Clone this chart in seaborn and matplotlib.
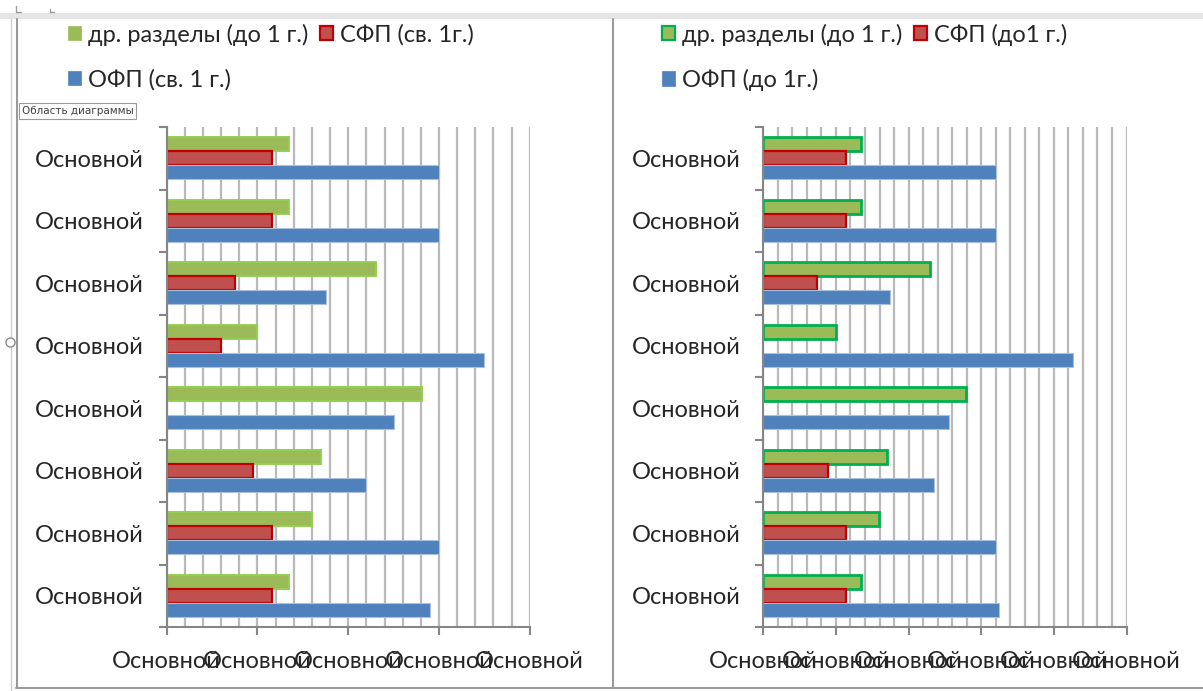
import numpy as np
import pandas as pd
import matplotlib
matplotlib.use("Agg")
import matplotlib.pyplot as plt
import seaborn as sns
from matplotlib.lines import Line2D
from matplotlib.patches import Rectangle, Patch

# ---------------- data ----------------
rows = ["r1", "r2", "r3", "r4", "r5", "r6", "r7", "r8"]
row_labels = ["Основной"] * 8
x_tick_text = "Основной"

left_names = ["др. разделы (до 1 г.)", "СФП (св. 1г.)", "ОФП (св. 1 г.)"]
left_green = [6.75, 6.75, 11.55, 5.0, 14.05, 8.5, 8.0, 6.75]
left_red = [5.8, 5.8, 3.75, 3.0, 0.0, 4.75, 5.8, 5.8]
left_blue = [15.0, 15.0, 8.75, 17.5, 12.5, 11.0, 15.0, 14.5]

right_names = ["др. разделы (до 1 г.)", "СФП (до1 г.)", "ОФП (до 1г.)"]
right_green = [6.7, 6.7, 11.5, 5.0, 13.95, 8.5, 7.95, 6.7]
right_red = [5.7, 5.7, 3.7, 0.0, 0.0, 4.45, 5.7, 5.7]
right_blue = [16.0, 16.0, 8.7, 21.3, 12.8, 11.75, 16.0, 16.25]

left_xmax = 20
right_xmax = 25
major_step = 5

# ---------------- style ----------------
sns.set_theme(style="white")
plt.rcParams["font.family"] = ["Lato", "DejaVu Sans"]

W, H = 1203, 691
fig = plt.figure(figsize=(W / 100, H / 100), dpi=100)
fig.patch.set_facecolor("white")

FILLS = ["#9BBB59", "#C0504D", "#4F81BD"]
AX_GRAY = "#868686"
GRID = "#b9b9b9"
FS = 17


def px_rect(x0, y0, x1, y1):
    return [x0 / W, 1 - y1 / H, (x1 - x0) / W, (y1 - y0) / H]


def draw(ax, green, red, blue, names, xmax, edges, lws):
    df = pd.DataFrame({
        "row": rows * 3,
        "series": sum([[n] * len(rows) for n in names], []),
        "value": list(green) + list(red) + list(blue),
    })
    sns.barplot(data=df, x="value", y="row", hue="series", order=rows,
                hue_order=names, orient="h", width=0.67,
                palette=dict(zip(names, FILLS)), saturation=1,
                errorbar=None, legend=False, ax=ax)
    for cont, ec, lw in zip(ax.containers, edges, lws):
        for bar in cont:
            if bar.get_width() <= 0:
                bar.set_visible(False)
            else:
                bar.set_edgecolor(ec)
                bar.set_linewidth(lw)
    ax.set_xlim(0, xmax)
    ax.set_ylim(len(rows) - 0.5, -0.5)
    majors = np.arange(0, xmax + 1, major_step)
    ax.set_xticks(majors)
    ax.set_xticklabels([x_tick_text] * len(majors))
    ax.set_xticks(np.arange(0, xmax + 1, 1), minor=True)
    ax.set_yticks(range(len(rows)))
    ax.set_yticklabels(row_labels)
    ax.set_yticks(np.arange(-0.5, len(rows), 1), minor=True)
    ax.grid(False)
    ax.grid(True, which="both", axis="x", color=GRID, lw=1.6)
    ax.set_axisbelow(True)
    ax.tick_params(axis="x", which="major", length=6, width=1.5,
                   color=AX_GRAY, direction="out", pad=11, labelsize=FS,
                   bottom=True)
    ax.tick_params(axis="x", which="minor", length=0)
    ax.tick_params(axis="y", which="major", length=0, pad=16.5, labelsize=FS)
    ax.tick_params(axis="y", which="minor", length=6, width=1.5,
                   color=AX_GRAY, direction="out", left=True)
    for s in ["top", "right"]:
        ax.spines[s].set_visible(False)
    for s in ["left", "bottom"]:
        ax.spines[s].set_color(AX_GRAY)
        ax.spines[s].set_linewidth(1.5)
    ax.set_xlabel("")
    ax.set_ylabel("")
    ax.set_facecolor("white")


axL = fig.add_axes(px_rect(166.7, 127, 529.7, 627))
axR = fig.add_axes(px_rect(763.3, 127, 1126.5, 627))

left_edges = ["#92D050", "#C00000", "#a9c1df"]
right_edges = ["#00B050", "#C00000", "#a9c1df"]
draw(axL, left_green, left_red, left_blue, left_names, left_xmax,
     left_edges, [1.4, 1.6, 0.8])
draw(axR, right_green, right_red, right_blue, right_names, right_xmax,
     right_edges, [2.0, 1.6, 0.8])


def legend(names, edges, lws, x_px):
    handles = [Patch(facecolor=f, edgecolor=e, linewidth=lw, label=n)
               for f, e, lw, n in zip(FILLS, edges, lws, names)]
    order = [0, 2, 1]
    fig.legend([handles[i] for i in order], [names[i] for i in order],
               ncol=2, loc="upper left",
               bbox_to_anchor=(x_px / W, 1 - 23.5 / H),
               frameon=False, fontsize=FS, handlelength=0.55,
               handleheight=0.55, handletextpad=0.3, columnspacing=0.5,
               labelspacing=0.98, borderpad=0, borderaxespad=0)


legend(left_names, ["#9BBB59", "#C00000", "#4F81BD"], [0.5, 1.6, 0.5], 68)
legend(right_names, ["#00B050", "#C00000", "#4F81BD"], [1.6, 1.6, 0.5], 662)

# ---------------- window decorations ----------------
def fline(x0, y0, x1, y1, color, lw):
    fig.add_artist(Line2D([x0 / W, x1 / W], [1 - y0 / H, 1 - y1 / H],
                          color=color, lw=lw, transform=fig.transFigure))


fig.add_artist(Rectangle((0, 1 - 19 / H), 1, 6 / H, facecolor="#e6e6e6",
                         edgecolor="none", transform=fig.transFigure))
fline(11, 19, 11, 691, "#cfcfcf", 1.0)
fline(16.5, 19, 16.5, 688, "#9a9a9a", 1.5)
fline(612.5, 19, 612.5, 688, "#9a9a9a", 1.5)
fline(16, 688, 1203, 688, "#9a9a9a", 1.5)
fline(16, 6, 16, 12, "#9a9a9a", 1.0)
fline(16, 12, 21, 12, "#9a9a9a", 1.0)
fline(50, 9, 50, 12, "#9a9a9a", 1.0)
fline(50, 12, 54, 12, "#9a9a9a", 1.0)
fig.add_artist(Line2D([10 / W], [1 - 342 / H], marker="o", markersize=6.5,
                      markerfacecolor="white", markeredgecolor="#8a8a8a",
                      markeredgewidth=1.0, linestyle="none",
                      transform=fig.transFigure))
fig.text(22 / W, 1 - 111 / H, "Область диаграммы", fontsize=7.5,
         va="center", ha="left", color="#404040",
         family=["DejaVu Sans"],
         bbox=dict(boxstyle="square,pad=0.25", facecolor="white",
                   edgecolor="#9a9a9a", lw=0.8))

fig.savefig("out.png", dpi=100, facecolor="white")
